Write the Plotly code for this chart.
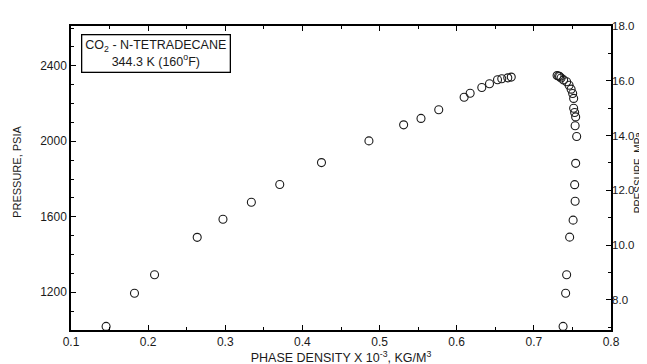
import plotly.graph_objects as go

# Vapor (CO2-rich) phase branch
vapor_density = [0.1455, 0.1823, 0.2083, 0.2636, 0.2970, 0.3338, 0.3706, 0.4247,
                 0.4862, 0.5312, 0.5537, 0.5767, 0.6096, 0.6174, 0.6325, 0.6425,
                 0.6529, 0.6584, 0.6662, 0.6707]
vapor_pressure = [1019, 1195, 1293, 1491, 1587, 1677, 1771, 1887,
                  2002, 2087, 2121, 2167, 2233, 2254, 2285, 2305,
                  2326, 2331, 2336, 2340]

# Liquid (tetradecane-rich) phase branch
liquid_density = [0.7301, 0.7321, 0.7334, 0.7353, 0.7386, 0.7425, 0.7457, 0.7483,
                  0.7503, 0.7516, 0.7516, 0.7529, 0.7542, 0.7535, 0.7555, 0.7542,
                  0.7529, 0.7535, 0.7509, 0.7464, 0.7425, 0.7412, 0.7379]
liquid_pressure = [2348, 2346, 2343, 2335, 2325, 2315, 2297, 2276,
                   2253, 2227, 2175, 2152, 2129, 2082, 2025, 1883,
                   1770, 1682, 1582, 1492, 1293, 1195, 1019]

x_ticks = [0.1, 0.2, 0.3, 0.4, 0.5, 0.6, 0.7, 0.8]
psia_ticks = [1200, 1600, 2000, 2400]
mpa_ticks = [8.0, 10.0, 12.0, 14.0, 16.0, 18.0]

PSIA_PER_MPA = 145.038
psia_range = [1000, 18.0 * PSIA_PER_MPA]
mpa_range = [psia_range[0] / PSIA_PER_MPA, psia_range[1] / PSIA_PER_MPA]

FONT = "Liberation Sans, Arial, sans-serif"
INK = "#1a1a1a"
marker = dict(symbol="circle-open", size=8, color=INK, line=dict(width=1.1, color=INK))

fig = go.Figure()
fig.add_trace(go.Scatter(x=vapor_density, y=vapor_pressure, mode="markers",
                         marker=marker, showlegend=False))
fig.add_trace(go.Scatter(x=liquid_density, y=liquid_pressure, mode="markers",
                         marker=marker, showlegend=False))
fig.add_trace(go.Scatter(x=[], y=[], yaxis="y2", showlegend=False))

axis_common = dict(showline=True, linecolor="black", linewidth=1.5, ticks="inside",
                   tickcolor="black", ticklen=5, tickwidth=1, showgrid=False, zeroline=False,
                   tickfont=dict(family=FONT, size=12, color=INK))

fig.update_layout(
    width=647, height=364,
    margin=dict(l=63, r=44, t=17, b=38),
    paper_bgcolor="white", plot_bgcolor="white",
    font=dict(family=FONT, color=INK),
    xaxis=dict(range=[0.1, 0.8], tickvals=x_ticks, ticktext=[f"{v:.1f}" for v in x_ticks],
               mirror="ticks",
               minor=dict(dtick=0.05, tick0=0.1, ticks="inside", ticklen=3, tickcolor="black"),
               title=dict(text="PHASE DENSITY X 10<sup>-3</sup>, KG/M<sup>3</sup>",
                          font=dict(family=FONT, size=12.5, color=INK), standoff=2),
               **axis_common),
    yaxis=dict(range=psia_range, tickvals=psia_ticks,
               minor=dict(dtick=100, tick0=1000, ticks="inside", ticklen=3, tickcolor="black"),
               **axis_common),
    yaxis2=dict(range=mpa_range, tickvals=mpa_ticks, ticktext=[f"{v:.1f}" for v in mpa_ticks],
                overlaying="y", side="right", ticklabelstandoff=-3,
                minor=dict(dtick=1, tick0=8, ticks="inside", ticklen=3, tickcolor="black"),
                **{**axis_common, "tickfont": dict(family=FONT, size=11.5, color=INK)}),
    annotations=[
        dict(text="CO<sub>2</sub> - N-TETRADECANE<br>344.3 K (160<sup>o</sup>F)",
             xref="paper", yref="paper", x=0.0185, y=0.975, xanchor="left", yanchor="top",
             showarrow=False, align="center", bordercolor="black", borderwidth=1.3,
             borderpad=3, bgcolor="white", font=dict(family=FONT, size=12.5, color=INK)),
        dict(text="PRESSURE, PSIA", xref="paper", yref="paper",
             x=(9 - 63) / 539.7, y=0.52, xanchor="center", yanchor="middle",
             textangle=-90, showarrow=False, font=dict(family=FONT, size=11, color=INK)),
        dict(text="PRESSURE, MPa", xref="paper", yref="paper",
             x=(631 - 63) / 539.7, y=0.52, xanchor="center", yanchor="middle",
             textangle=-90, showarrow=False, font=dict(family=FONT, size=10, color=INK)),
    ],
)

fig.write_html("out.html")
